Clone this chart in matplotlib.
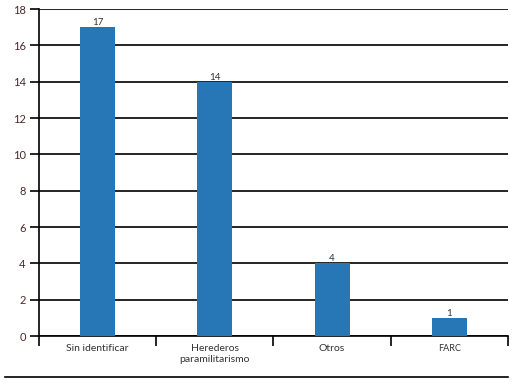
import numpy as np
import matplotlib
matplotlib.use("Agg")
from matplotlib import pyplot as plt
from matplotlib.lines import Line2D

categories = ['Sin identificar', 'Herederos\nparamilitarismo', 'Otros', 'FARC']
values = [17, 14, 4, 1]
yticks = [0, 2, 4, 6, 8, 10, 12, 14, 16, 18]

plt.rcParams['font.family'] = ['Lato', 'DejaVu Sans']

fig = plt.figure(figsize=(5.19, 3.83), dpi=100)
ax = fig.add_axes([0.0751, 0.1227, 0.9037, 0.8538])

x = np.arange(len(categories))
bars = ax.bar(x, values, width=0.3, color='#2777b7', zorder=3)
for xi, v in zip(x, values):
    ax.text(xi, v, str(v), ha='center', va='bottom', fontsize=7, color='#333333')

ax.set_xlim(-0.5, len(categories) - 0.5)
ax.set_ylim(0, 18)
ax.set_yticks(yticks)
ax.set_yticklabels([str(t) for t in yticks], fontsize=8, color='#4a2a2a')
ax.yaxis.grid(True, color='black', linewidth=1.2, zorder=0)
ax.tick_params(axis='y', length=6.5, width=1.2, color='black', pad=3)

ax.set_xticks(x)
ax.set_xticklabels(categories, fontsize=7.5, color='#333333')
ax.set_xticks(np.arange(len(categories) + 1) - 0.5, minor=True)
ax.tick_params(axis='x', which='major', length=0, pad=6)
ax.tick_params(axis='x', which='minor', length=7.5, width=1.2, color='black')
# FARC label slightly smaller
ax.get_xticklabels()[3].set_fontsize(6.5)

for s in ['top', 'right']:
    ax.spines[s].set_visible(False)
ax.spines['left'].set_linewidth(1.2)
ax.spines['bottom'].set_linewidth(1.2)

fig.add_artist(Line2D([5 / 519, 508 / 519], [1 - 377 / 383, 1 - 377 / 383],
                      color='black', linewidth=1.2, transform=fig.transFigure))

fig.savefig('out.png', dpi=100)
